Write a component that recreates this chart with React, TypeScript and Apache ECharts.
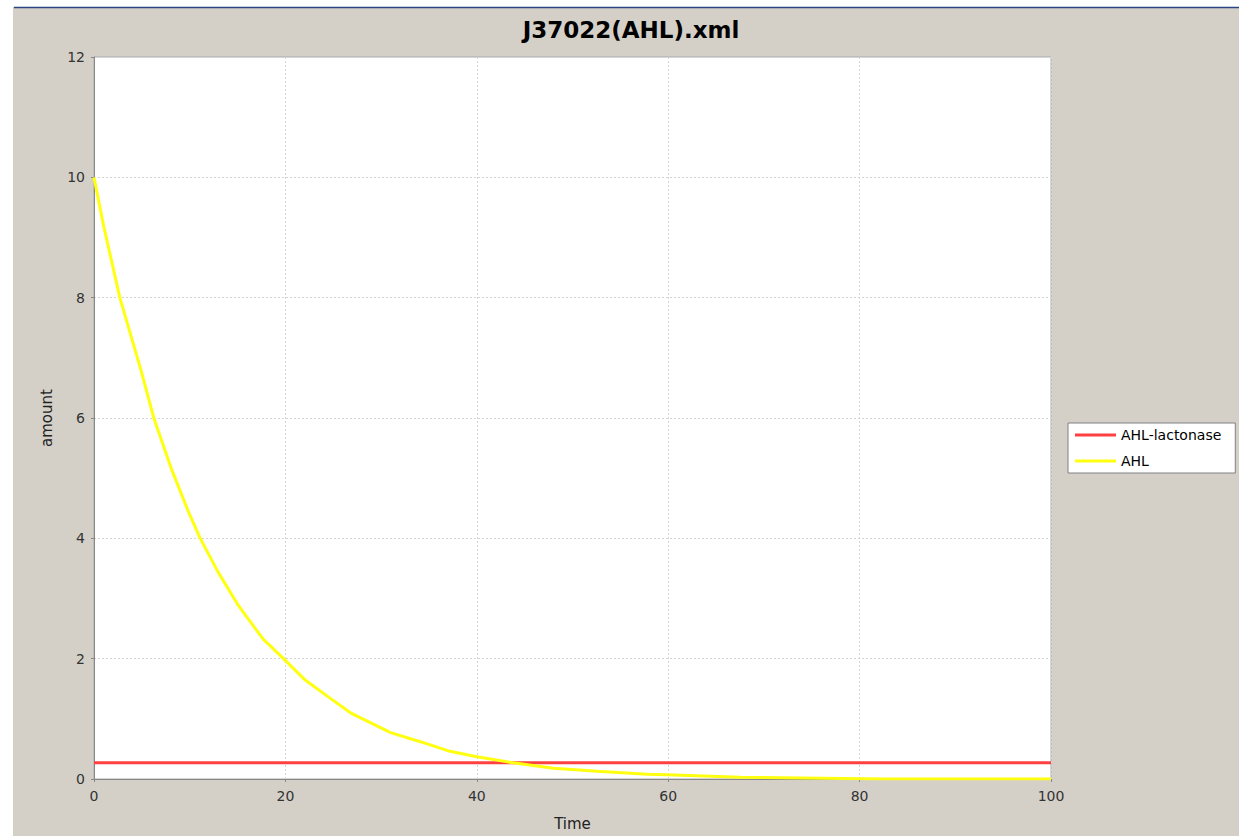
import React, { useEffect, useRef } from "react";
import * as echarts from "echarts";

const TITLE = "J37022(AHL).xml";
const X_NAME = "Time";
const Y_NAME = "amount";
const SERIES_NAMES = ["AHL-lactonase", "AHL"];

// AHL-lactonase (constant level)
const LACTONASE_T = [0, 100];
const LACTONASE_V = [0.27, 0.27];

// AHL decay
const AHL_T = [0, 1, 2.7, 4.9, 6.25, 8.1, 9.9, 11.1, 13, 15.1, 17.7, 19.8, 22.1, 24.7, 26.8, 31, 34.1, 37.2, 40, 43.8, 48, 52.6, 57.8, 59.9, 67.5, 82.5, 100];
const AHL_V = [10, 9.2, 8, 6.8, 6, 5.15, 4.43, 4.0, 3.43, 2.88, 2.32, 2.0, 1.64, 1.34, 1.1, 0.77, 0.62, 0.46, 0.37, 0.27, 0.18, 0.13, 0.08, 0.07, 0.03, 0, 0];

const X_MIN = 0, X_MAX = 100, X_STEP = 20;
const Y_MIN = 0, Y_MAX = 12, Y_STEP = 2;

const FONT = "DejaVu Sans";

export default function App() {
  const ref = useRef<HTMLDivElement>(null);
  useEffect(() => {
    if (!ref.current) return;
    const chart = echarts.init(ref.current, undefined, { renderer: "svg" });
    const axisCommon = {
      axisLine: { show: true, lineStyle: { color: "#888888", width: 1 } },
      axisTick: { show: true, inside: false, length: 3, lineStyle: { color: "#888888" } },
      axisLabel: { color: "#333333", fontSize: 14, fontFamily: FONT },
      splitLine: { show: true, lineStyle: { color: "#d4d4d4", type: [2, 2] } },
      nameLocation: "middle" as const,
      nameTextStyle: { color: "#222222", fontSize: 15, fontFamily: FONT },
    };
    chart.setOption({
      animation: false,
      backgroundColor: "#d4d0c8",
      title: {
        text: TITLE,
        left: 626,
        textAlign: "center",
        top: 13,
        textStyle: { fontFamily: FONT, fontWeight: "bold", fontSize: 23, color: "#000" },
      },
      graphic: [
        { type: "rect", shape: { x: 0, y: 0, width: 13, height: 836 }, style: { fill: "#ffffff" }, silent: true },
        { type: "rect", shape: { x: 0, y: 0, width: 1239, height: 7 }, style: { fill: "#ffffff" }, silent: true },
        { type: "line", shape: { x1: 14, y1: 7.5, x2: 1239, y2: 7.5 }, style: { stroke: "#2a4680", lineWidth: 1.5 }, silent: true },
      ],
      grid: {
        left: 94,
        top: 57,
        right: 188,
        bottom: 55,
        show: true,
        backgroundColor: "#ffffff",
        borderColor: "#aaaaaa",
        borderWidth: 1,
      },
      legend: {
        orient: "vertical",
        left: 1068,
        top: 423,
        padding: [5, 14, 5, 7],
        itemWidth: 41,
        itemHeight: 3,
        itemGap: 12,
        icon: "rect",
        backgroundColor: "#ffffff",
        borderColor: "#808080",
        borderWidth: 1,
        textStyle: { fontSize: 14, fontFamily: FONT, color: "#000" },
        data: SERIES_NAMES,
      },
      xAxis: {
        type: "value",
        min: X_MIN,
        max: X_MAX,
        interval: X_STEP,
        name: X_NAME,
        nameGap: 37,
        ...axisCommon,
        axisLabel: { ...axisCommon.axisLabel, margin: 10 },
      },
      yAxis: {
        type: "value",
        min: Y_MIN,
        max: Y_MAX,
        interval: Y_STEP,
        name: Y_NAME,
        nameGap: 40,
        nameRotate: 90,
        ...axisCommon,
        axisLabel: { ...axisCommon.axisLabel, margin: 9 },
      },
      series: [
        {
          name: SERIES_NAMES[0],
          type: "line",
          showSymbol: false,
          symbol: "none",
          color: "#ff4040",
          lineStyle: { color: "#ff4040", width: 3 },
          data: LACTONASE_T.map((t, i) => [t, LACTONASE_V[i]]),
        },
        {
          name: SERIES_NAMES[1],
          type: "line",
          showSymbol: false,
          symbol: "none",
          color: "#ffff10",
          lineStyle: { color: "#ffff10", width: 3 },
          data: AHL_T.map((t, i) => [t, AHL_V[i]]),
        },
      ],
    });
    return () => chart.dispose();
  }, []);
  return (
    <div style={{ position: "fixed", left: 0, top: 0, width: 1239, height: 836 }}>
      <div ref={ref} style={{ width: 1239, height: 836 }} />
    </div>
  );
}
